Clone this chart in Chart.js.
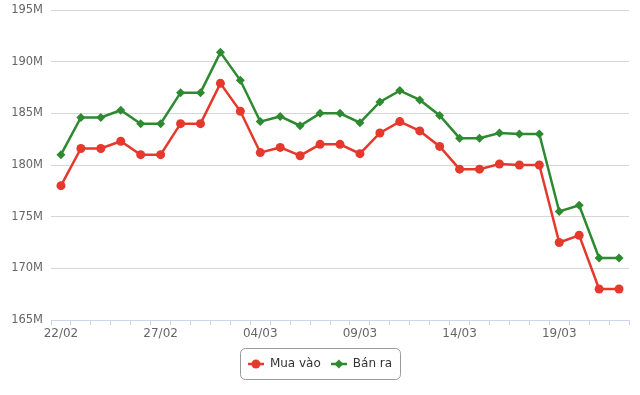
<!DOCTYPE html>
<html>
<head>
<meta charset="utf-8">
<script src="https://cdn.jsdelivr.net/npm/chart.js@4/dist/chart.umd.min.js"></script>
<style>
  html, body { margin: 0; padding: 0; background: #fff; }
  #wrap { width: 640px; height: 395px; position: relative; }
</style>
</head>
<body>
<div id="wrap"><canvas id="chart"></canvas></div>
<script>
// dates, one point per day
const labels = [
  "22/02", "23/02", "24/02", "25/02", "26/02", "27/02", "28/02",
  "01/03", "02/03", "03/03", "04/03", "05/03", "06/03", "07/03",
  "08/03", "09/03", "10/03", "11/03", "12/03", "13/03", "14/03",
  "15/03", "16/03", "17/03", "18/03", "19/03", "20/03", "21/03", "22/03"
];

// prices in millions
const muaVao = [
  178.0, 181.6, 181.6, 182.3, 181.0, 181.0, 184.0, 184.0, 187.9, 185.2,
  181.2, 181.7, 180.9, 182.0, 182.0, 181.1, 183.1, 184.2, 183.3, 181.8,
  179.6, 179.6, 180.1, 180.0, 180.0, 172.5, 173.2, 168.0, 168.0
];
const banRa = [
  181.0, 184.6, 184.6, 185.3, 184.0, 184.0, 187.0, 187.0, 190.9, 188.2,
  184.2, 184.7, 183.8, 185.0, 185.0, 184.1, 186.1, 187.2, 186.3, 184.8,
  182.6, 182.6, 183.1, 183.0, 183.0, 175.5, 176.1, 171.0, 171.0
];

const yTicks = [165, 170, 175, 180, 185, 190, 195];

const RED = "#e5392d";
const GREEN = "#2e8a30";

// legend symbol: short line with the marker in the middle
function legendIcon(color, shape) {
  const c = document.createElement("canvas");
  c.width = 16;
  c.height = 12;
  const g = c.getContext("2d");
  g.strokeStyle = color;
  g.fillStyle = color;
  g.lineWidth = 2.5;
  g.beginPath();
  g.moveTo(0, 6);
  g.lineTo(16, 6);
  g.stroke();
  g.beginPath();
  if (shape === "circle") {
    g.arc(8, 6, 4.5, 0, Math.PI * 2);
  } else {
    g.moveTo(8, 1.5);
    g.lineTo(12.5, 6);
    g.lineTo(8, 10.5);
    g.lineTo(3.5, 6);
    g.closePath();
  }
  g.fill();
  return c;
}

// rounded frame around the legend items
const legendFrame = {
  id: "legendFrame",
  afterDraw(chart) {
    const boxes = chart.legend && chart.legend.legendHitBoxes;
    if (!boxes || !boxes.length) return;
    let x1 = Infinity, x2 = -Infinity, y1 = Infinity, y2 = -Infinity;
    boxes.forEach((b) => {
      x1 = Math.min(x1, b.left);
      x2 = Math.max(x2, b.left + b.width);
      y1 = Math.min(y1, b.top);
      y2 = Math.max(y2, b.top + b.height);
    });
    const ctx = chart.ctx;
    ctx.save();
    ctx.strokeStyle = "#999";
    ctx.lineWidth = 1;
    ctx.beginPath();
    ctx.roundRect(Math.round(x1 - 8) + 0.5, Math.round(y1 - 10) + 0.5, Math.round(x2 - x1 + 16), Math.round(y2 - y1 + 19), 5);
    ctx.stroke();
    ctx.restore();
  },
};

const ctx = document.getElementById("chart").getContext("2d");
new Chart(ctx, {
  type: "line",
  data: {
    labels: labels,
    datasets: [
      {
        label: "Mua vào",
        data: muaVao,
        borderColor: RED,
        backgroundColor: RED,
        borderWidth: 2.5,
        pointStyle: "circle",
        pointRadius: 4.5,
        pointBorderWidth: 0,
        fill: false,
        tension: 0,
      },
      {
        label: "Bán ra",
        data: banRa,
        borderColor: GREEN,
        backgroundColor: GREEN,
        borderWidth: 2.5,
        pointStyle: "rectRot",
        pointRadius: 4.5,
        pointBorderWidth: 0,
        fill: false,
        tension: 0,
      },
    ],
  },
  options: {
    responsive: true,
    maintainAspectRatio: false,
    animation: false,
    layout: {
      padding: { top: 10, right: 11, left: 11, bottom: 15 },
    },
    plugins: {
      tooltip: { enabled: false },
      legend: {
        display: true,
        position: "bottom",
        labels: {
          color: "#333",
          font: { family: "DejaVu Sans", size: 12 },
          usePointStyle: true,
          pointStyleWidth: 16,
          padding: 10,
          generateLabels: (chart) =>
            chart.data.datasets.map((ds, i) => ({
              text: ds.label,
              fontColor: "#333",
              pointStyle: legendIcon(ds.borderColor, ds.pointStyle),
              datasetIndex: i,
              lineWidth: 0,
              hidden: false,
            })),
        },
      },
    },
    scales: {
      x: {
        offset: true,
        grid: {
          offset: true,
          drawOnChartArea: false,
          drawTicks: true,
          tickLength: 5,
          color: "#ccd6eb",
        },
        border: { display: true, color: "#ccd6eb" },
        ticks: {
          autoSkip: false,
          maxRotation: 0,
          padding: 2,
          color: "#666",
          font: { family: "DejaVu Sans", size: 12 },
          callback: (val, i) => (i % 5 === 0 ? labels[i] : ""),
        },
        afterFit: (scale) => { scale.height = 28; },
      },
      y: {
        min: yTicks[0],
        max: yTicks[yTicks.length - 1],
        afterBuildTicks: (scale) => {
          scale.ticks = yTicks.map((v) => ({ value: v }));
        },
        grid: {
          color: "#d6d6d6",
          drawTicks: false,
        },
        border: { display: false },
        ticks: {
          padding: 8,
          color: "#666",
          font: { family: "DejaVu Sans", size: 11.5 },
          callback: (v) => v + "M",
        },
        afterFit: (scale) => {
          scale.width = 40;
          scale.paddingTop = 0;
          scale.paddingBottom = 0;
        },
      },
    },
  },
  plugins: [legendFrame],
});
</script>
</body>
</html>
